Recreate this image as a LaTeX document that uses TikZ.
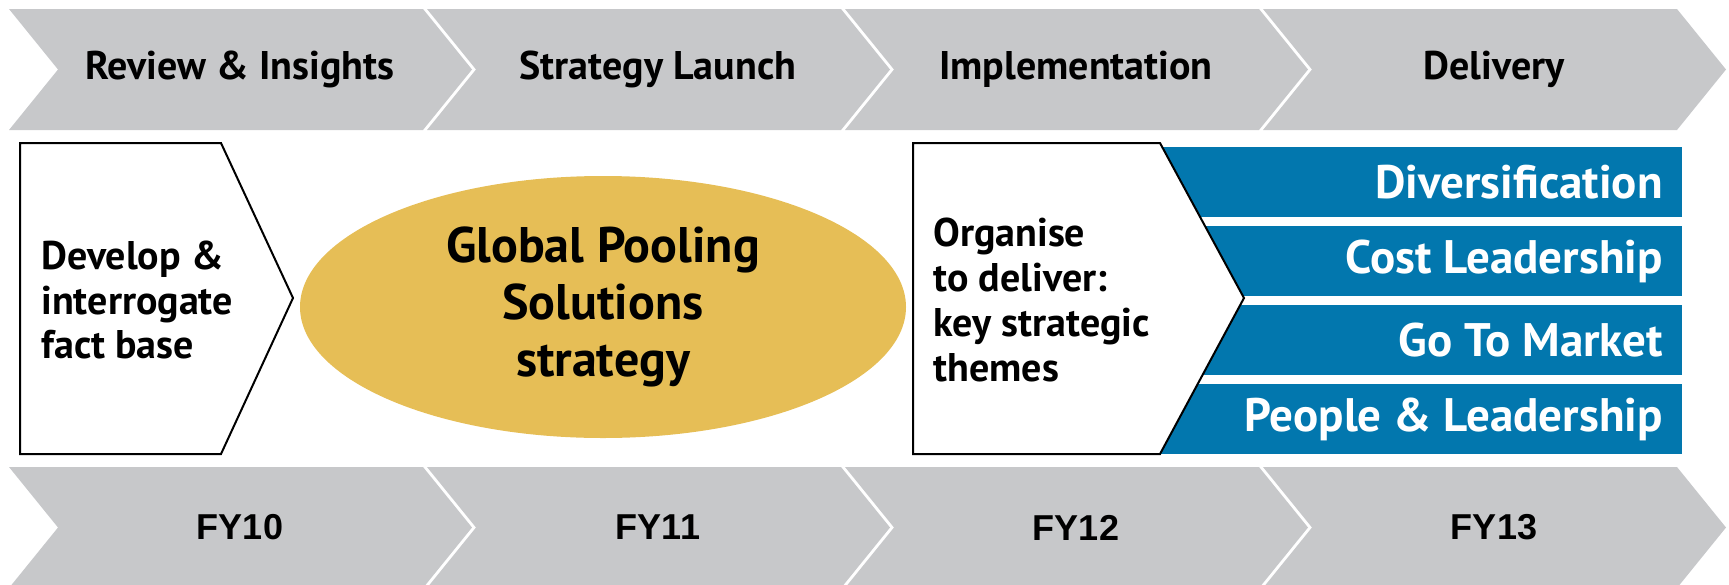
\documentclass[tikz,border=0pt]{standalone}
\usepackage{fontspec}
\setmainfont{PT Sans}
\newfontfamily\fyfont{Liberation Sans}
\usetikzlibrary{shapes.geometric}
\definecolor{chevgray}{RGB}{199,200,202}
\definecolor{themeblue}{RGB}{2,119,174}
\definecolor{poolgold}{RGB}{230,190,86}
\tikzstyle{chev}=[fill=chevgray]
\tikzstyle{phase}=[inner sep=0pt, font=\fontsize{20}{24}\selectfont\bfseries]
\tikzstyle{year}=[inner sep=0pt, font=\fyfont\fontsize{18}{21}\selectfont\bfseries]
\tikzstyle{stagebox}=[draw=black, fill=white, line width=1pt, line join=miter]
\tikzstyle{stagetext}=[align=left, anchor=west, inner sep=0pt, font=\fontsize{20}{22.4}\selectfont\bfseries]
\tikzstyle{themebar}=[fill=themeblue]
\tikzstyle{themetext}=[anchor=east, inner sep=0pt, text=white, font=\fontsize{23.5}{27}\selectfont\bfseries]
\tikzstyle{oval}=[ellipse, fill=poolgold, minimum width=303pt, minimum height=131pt, inner sep=0pt, align=center, font=\fontsize{25}{28.5}\selectfont\bfseries]
\newcommand{\drawchevron}[5]
{
  \fill[chev] (#1,#2) -- ++(414,0) -- ++(49,60.5) -- ++(-49,60.5) -- ++(-414,0) -- ++(49,-60.5) -- cycle;
  \node[#4] (#3) at ({#1+231},{#2+60.5}) {#5};
}

\begin{document}
\begin{tikzpicture}[x=0.5pt, y=-0.5pt]
	\clip (0,0) rectangle (1729,584);

	\drawchevron{9}{9}{review}{phase}{Review \& Insights}
	\drawchevron{427}{9}{launch}{phase}{Strategy Launch}
	\drawchevron{845}{9}{implement}{phase}{Implementation}
	\drawchevron{1263}{9}{delivery}{phase}{Delivery}

	\drawchevron{9}{467}{fy10}{year}{FY10}
	\drawchevron{427}{467}{fy11}{year}{FY11}
	\drawchevron{845}{467}{fy12}{year}{FY12}
	\drawchevron{1263}{467}{fy13}{year}{FY13}

	\draw[stagebox] (20,143) -- (221,143) -- (293,298) -- (221,454) -- (20,454) -- cycle;
	\node[stagetext] (factbase) at (41,300) {Develop \&\\interrogate\\fact base};

	\node[oval] (pooling) at (603,307) {Global Pooling\\Solutions\\strategy};

	\fill[themebar] (1150,147) rectangle (1682,217);
	\fill[themebar] (1150,226) rectangle (1682,296);
	\fill[themebar] (1150,305) rectangle (1682,375);
	\fill[themebar] (1150,384) rectangle (1682,454);
	\node[themetext] (divers) at (1663,182) {Diversification};
	\node[themetext] (cost) at (1663,261) {Cost Leadership};
	\node[themetext] (market) at (1663,340) {Go To Market};
	\node[themetext] (people) at (1663,419) {People \& Leadership};

	\draw[stagebox] (913,143) -- (1160,143) -- (1244,298) -- (1160,454) -- (913,454) -- cycle;
	\node[stagetext] (organise) at (933,300) {Organise\\to deliver:\\key strategic\\themes};
\end{tikzpicture}
\end{document}
